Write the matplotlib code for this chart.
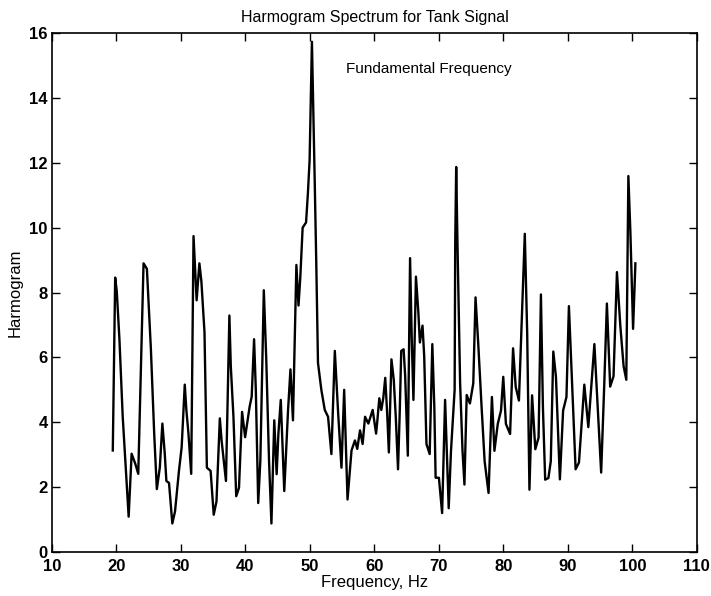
import matplotlib
matplotlib.use("Agg")
import matplotlib.pyplot as plt

plt.rcParams['font.family'] = ['Liberation Sans', 'DejaVu Sans']

# Harmogram spectrum of the tank signal (frequency in Hz)
freq = [19.43, 19.80, 20.05, 20.46, 20.97, 21.49, 21.89, 22.35, 22.92, 23.38,
        23.80, 24.20, 24.72, 25.34, 25.85, 26.26, 26.72, 27.12, 27.49, 27.74,
        28.15, 28.66, 29.08, 29.69, 30.11, 30.59, 30.84, 31.16, 31.59, 31.95,
        32.43, 32.86, 33.17, 33.65, 33.92, 34.02, 34.60, 35.08, 35.51, 36.03,
        36.30, 36.98, 37.51, 37.73, 38.14, 38.57, 39.00, 39.48, 39.95, 40.27,
        40.65, 40.97, 41.34, 41.61, 41.98, 42.31, 42.85, 43.23, 43.66, 44.03,
        44.47, 44.84, 45.11, 45.48, 46.02, 46.61, 46.98, 47.37, 47.90, 48.23,
        48.50, 48.87, 49.40, 49.68, 49.95, 50.20, 50.31, 50.47, 50.73, 50.98,
        51.25, 51.77, 52.30, 52.81, 53.33, 53.86, 54.38, 54.89, 55.31, 55.83,
        56.45, 56.98, 57.34, 57.77, 58.17, 58.55, 59.06, 59.73, 60.26, 60.46,
        60.76, 61.07, 61.37, 61.68, 61.98, 62.24, 62.64, 63.00, 63.31, 63.66,
        63.92, 64.16, 64.53, 64.77, 65.18, 65.53, 65.79, 66.05, 66.44, 66.81,
        67.05, 67.46, 67.72, 68.07, 68.57, 68.98, 69.29, 69.49, 70.00, 70.50,
        70.96, 71.22, 71.52, 71.87, 72.44, 72.53, 72.68, 72.89, 73.29, 73.66,
        73.96, 74.31, 74.81, 75.33, 75.68, 76.09, 76.59, 77.09, 77.70, 78.22,
        78.61, 79.13, 79.63, 79.98, 80.39, 81.04, 81.50, 81.91, 82.41, 82.93,
        83.32, 83.69, 84.04, 84.45, 84.95, 85.46, 85.82, 86.13, 86.48, 86.98,
        87.35, 87.74, 88.15, 88.76, 89.26, 89.78, 90.16, 90.58, 91.20, 91.72,
        92.55, 93.17, 94.11, 94.64, 95.16, 95.63, 96.05, 96.56, 97.08, 97.61,
        98.13, 98.64, 99.06, 99.38, 99.69, 100.11, 100.47]

harmogram = [3.13, 8.46, 8.03, 6.56, 4.17, 2.41, 1.09, 3.03, 2.72, 2.41,
             5.73, 8.90, 8.73, 6.25, 3.66, 1.94, 2.60, 3.96, 3.03, 2.19,
             2.13, 0.88, 1.25, 2.50, 3.23, 5.16, 4.38, 3.66, 2.41, 9.74,
             7.76, 8.90, 8.34, 6.78, 3.85, 2.60, 2.50, 1.15, 1.56, 4.12,
             3.44, 2.19, 7.29, 5.73, 4.17, 1.72, 1.98, 4.32, 3.54, 3.96,
             4.48, 4.79, 6.56, 5.00, 1.51, 2.81, 8.07, 5.94, 2.81, 0.88,
             4.06, 2.40, 3.65, 4.69, 1.88, 4.38, 5.63, 4.06, 8.85, 7.60,
             8.44, 10.00, 10.16, 11.04, 12.08, 14.70, 15.73, 14.17, 11.56, 8.96,
             5.83, 5.00, 4.38, 4.17, 3.02, 6.20, 4.27, 2.60, 5.00, 1.62,
             3.13, 3.44, 3.18, 3.75, 3.33, 4.17, 3.96, 4.38, 3.65, 4.06,
             4.74, 4.38, 4.74, 5.37, 4.27, 3.07, 5.94, 5.31, 4.17, 2.55,
             4.27, 6.20, 6.25, 5.42, 2.97, 9.06, 6.56, 4.69, 8.49, 7.40,
             6.46, 6.98, 6.04, 3.33, 3.02, 6.41, 4.48, 2.29, 2.29, 1.20,
             4.69, 3.10, 1.35, 3.10, 5.00, 9.50, 11.87, 9.40, 5.20, 3.13,
             2.08, 4.84, 4.58, 5.20, 7.85, 6.46, 4.58, 2.80, 1.82, 4.78,
             3.12, 3.95, 4.36, 5.40, 3.95, 3.64, 6.28, 5.09, 4.67, 7.58,
             9.81, 6.75, 1.92, 4.83, 3.17, 3.53, 7.94, 4.46, 2.23, 2.28,
             2.80, 6.18, 5.40, 2.24, 4.36, 4.78, 7.58, 5.52, 2.55, 2.76,
             5.16, 3.85, 6.41, 4.38, 2.45, 5.10, 7.66, 5.10, 5.42, 8.63,
             6.98, 5.73, 5.31, 11.59, 9.88, 6.88, 8.90]

x_ticks = [10, 20, 30, 40, 50, 60, 70, 80, 90, 100, 110]
y_ticks = [0, 2, 4, 6, 8, 10, 12, 14, 16]

fig = plt.figure(figsize=(7.11, 5.96), dpi=100)
ax = fig.add_axes([0.0731, 0.0738, 0.907, 0.8708])

ax.plot(freq, harmogram, color='black', linewidth=1.7)

ax.set_xlim(10, 110)
ax.set_ylim(0, 16)
ax.set_xticks(x_ticks)
ax.set_yticks(y_ticks)
ax.tick_params(direction='in', top=True, right=True, length=6, width=1,
               labelsize=12)
ax.tick_params(axis='x', pad=5)
ax.tick_params(axis='y', pad=3)
for lbl in ax.get_xticklabels() + ax.get_yticklabels():
    lbl.set_fontweight('bold')
for spine in ax.spines.values():
    spine.set_linewidth(1.2)

ax.set_title('Harmogram Spectrum for Tank Signal', fontsize=11.5, pad=8)
ax.set_xlabel('Frequency, Hz', fontsize=12, labelpad=1)
ax.set_ylabel('Harmogram', fontsize=12, labelpad=5)
ax.text(55.6, 14.9, 'Fundamental Frequency', fontsize=11, va='center')

fig.savefig('out.png', dpi=100)
